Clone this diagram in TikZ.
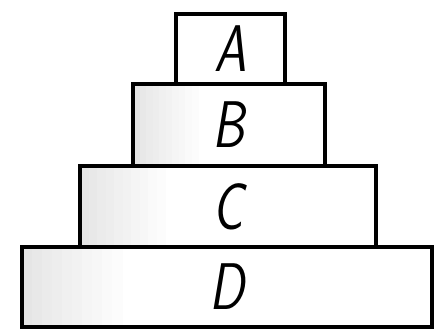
\documentclass[tikz,border=0pt]{standalone}
\usepackage{tikz}
\usetikzlibrary{positioning}

\newcommand{\blocklabel}[1]{\scalebox{0.78}[1]{#1}}

\begin{document}
\begin{tikzpicture}[x=1pt,y=1pt]
  \tikzset{
    block/.style={draw,line width=3.5pt,outer sep=0pt,inner sep=0pt,
      font=\fontsize{66}{66}\selectfont\sffamily\slshape},
    speckled/.style={path picture={
      \foreach \k [evaluate=\k as \tone using 20-2*\k] in {0,...,9}
        \fill[gray!\tone]
          ([xshift=\k*#1/10]path picture bounding box.south west) rectangle
          ([xshift=(\k+1)*#1/10+0.5pt]path picture bounding box.north west);}}
  }
  \useasboundingbox (0,0) rectangle (434,336);

  % ================= stacked blocks =================
  \node[block,speckled=100pt,minimum width=410pt,minimum height=80pt]
    (boxD) at (227,49) {\blocklabel{D}};
  \node[block,speckled=85pt,minimum width=296pt,minimum height=81pt,
    above=0pt of boxD,xshift=1pt] (boxC) {\blocklabel{C}};
  \node[block,speckled=65pt,minimum width=192pt,minimum height=82pt,
    above=0pt of boxC,xshift=1pt] (boxB) {\blocklabel{B}};
  \node[block,minimum width=109pt,minimum height=70pt,
    above=0pt of boxB,xshift=1.5pt] (boxA) {\blocklabel{A}};

\end{tikzpicture}
\end{document}
